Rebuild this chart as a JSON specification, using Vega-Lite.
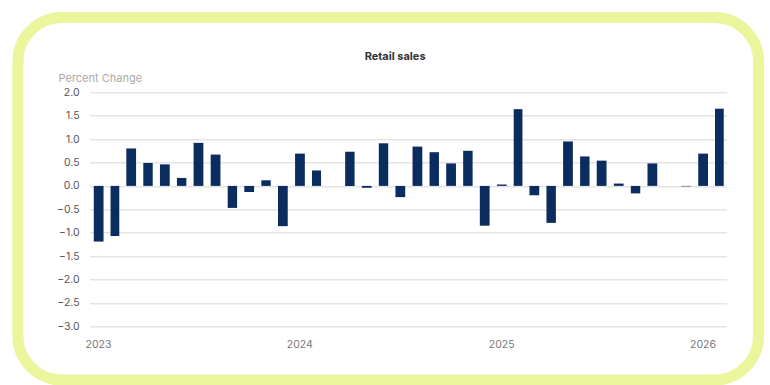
{
  "$schema": "https://vega.github.io/schema/vega-lite/v6.json",
  "width": 637,
  "height": 234,
  "autosize": {"type": "none"},
  "padding": {"left": 89.6, "top": 92.3, "right": 43.4, "bottom": 58.7},
  "background": "white",
  "config": {
    "view": {"stroke": null},
    "font": "Inter",
    "axisX": {
      "title": null,
      "labelFlush": false,
      "labelAlign": "center",
      "labelOffset": 8.4,
      "grid": false,
      "ticks": false,
      "domain": false,
      "labelPadding": 13,
      "labelFontSize": 10.5,
      "labelColor": "#777777",
      "labelFont": "Inter"
    },
    "axisY": {
      "titleAngle": 0,
      "titleAlign": "left",
      "titleBaseline": "alphabetic",
      "titleX": -31.6,
      "titleY": -10.8,
      "titleFontSize": 11,
      "titleFontWeight": "normal",
      "titleColor": "#aaaaaa",
      "titleFont": "Inter",
      "labelOverlap": false,
      "grid": true,
      "gridColor": "#e4e4e4",
      "gridWidth": 1.5,
      "ticks": false,
      "domain": false,
      "labelPadding": 10.5,
      "labelFontSize": 10.5,
      "labelColor": "#555555",
      "labelFont": "Inter"
    }
  },
  "title": {
    "text": "Retail sales",
    "anchor": "middle",
    "frame": "group",
    "dx": -13,
    "fontSize": 11,
    "fontWeight": "bold",
    "color": "#333333",
    "font": "Inter",
    "baseline": "alphabetic",
    "offset": -59.5
  },
  "datasets": {
    "sales": [
      {"date": "2023-01", "change": -1.19},
      {"date": "2023-02", "change": -1.07},
      {"date": "2023-03", "change": 0.80},
      {"date": "2023-04", "change": 0.49},
      {"date": "2023-05", "change": 0.46},
      {"date": "2023-06", "change": 0.17},
      {"date": "2023-07", "change": 0.92},
      {"date": "2023-08", "change": 0.67},
      {"date": "2023-09", "change": -0.47},
      {"date": "2023-10", "change": -0.13},
      {"date": "2023-11", "change": 0.12},
      {"date": "2023-12", "change": -0.86},
      {"date": "2024-01", "change": 0.69},
      {"date": "2024-02", "change": 0.33},
      {"date": "2024-03", "change": 0.0},
      {"date": "2024-04", "change": 0.73},
      {"date": "2024-05", "change": -0.04},
      {"date": "2024-06", "change": 0.91},
      {"date": "2024-07", "change": -0.24},
      {"date": "2024-08", "change": 0.84},
      {"date": "2024-09", "change": 0.72},
      {"date": "2024-10", "change": 0.48},
      {"date": "2024-11", "change": 0.75},
      {"date": "2024-12", "change": -0.85},
      {"date": "2025-01", "change": 0.03},
      {"date": "2025-02", "change": 1.64},
      {"date": "2025-03", "change": -0.2},
      {"date": "2025-04", "change": -0.79},
      {"date": "2025-05", "change": 0.95},
      {"date": "2025-06", "change": 0.63},
      {"date": "2025-07", "change": 0.54},
      {"date": "2025-08", "change": 0.05},
      {"date": "2025-09", "change": -0.16},
      {"date": "2025-10", "change": 0.48},
      {"date": "2025-11", "change": 0.0},
      {"date": "2025-12", "change": -0.01},
      {"date": "2026-01", "change": 0.69},
      {"date": "2026-02", "change": 1.65}
    ]
  },
  "layer": [
    {
      "data": {"name": "sales"},
      "mark": {"type": "bar", "color": "#0b2c5e", "width": {"band": 0.63}},
      "encoding": {
        "x": {
          "field": "date",
          "timeUnit": "utcyearmonth",
          "type": "temporal",
          "scale": {"domain": [{"year": 2023, "month": 1, "date": 1, "utc": true}, {"year": 2026, "month": 3, "date": 1, "utc": true}]},
          "axis": {
            "values": [
              {"year": 2023, "month": 1, "date": 1, "utc": true},
              {"year": 2024, "month": 1, "date": 1, "utc": true},
              {"year": 2025, "month": 1, "date": 1, "utc": true},
              {"year": 2026, "month": 1, "date": 1, "utc": true}
            ],
            "labelExpr": "utcFormat(datum.value, '%Y')"
          }
        },
        "y": {
          "field": "change",
          "type": "quantitative",
          "scale": {"domain": [-3, 2], "nice": false, "zero": false},
          "axis": {
            "title": "Percent Change",
            "values": [-3, -2.5, -2, -1.5, -1, -0.5, 0, 0.5, 1, 1.5, 2],
            "format": ".1f"
          }
        }
      }
    },
    {
      "data": {"values": [{}]},
      "mark": {"type": "rect", "fill": "white", "fillOpacity": 0, "stroke": "#ebf59b", "strokeWidth": 11, "cornerRadius": 44},
      "encoding": {
        "x": {
          "datum": {"year": 2022, "month": 8, "date": 24, "utc": true},
          "type": "temporal",
          "axis": {
            "values": [
              {"year": 2023, "month": 1, "date": 1, "utc": true},
              {"year": 2024, "month": 1, "date": 1, "utc": true},
              {"year": 2025, "month": 1, "date": 1, "utc": true},
              {"year": 2026, "month": 1, "date": 1, "utc": true}
            ],
            "labelExpr": "utcFormat(datum.value, '%Y')"
          }
        },
        "x2": {"datum": {"year": 2026, "month": 4, "date": 28, "utc": true}},
        "y": {
          "datum": 3.6,
          "type": "quantitative",
          "axis": {
            "title": "Percent Change",
            "values": [-3, -2.5, -2, -1.5, -1, -0.5, 0, 0.5, 1, 1.5, 2],
            "format": ".1f"
          }
        },
        "y2": {"datum": -4.15}
      }
    }
  ]
}
